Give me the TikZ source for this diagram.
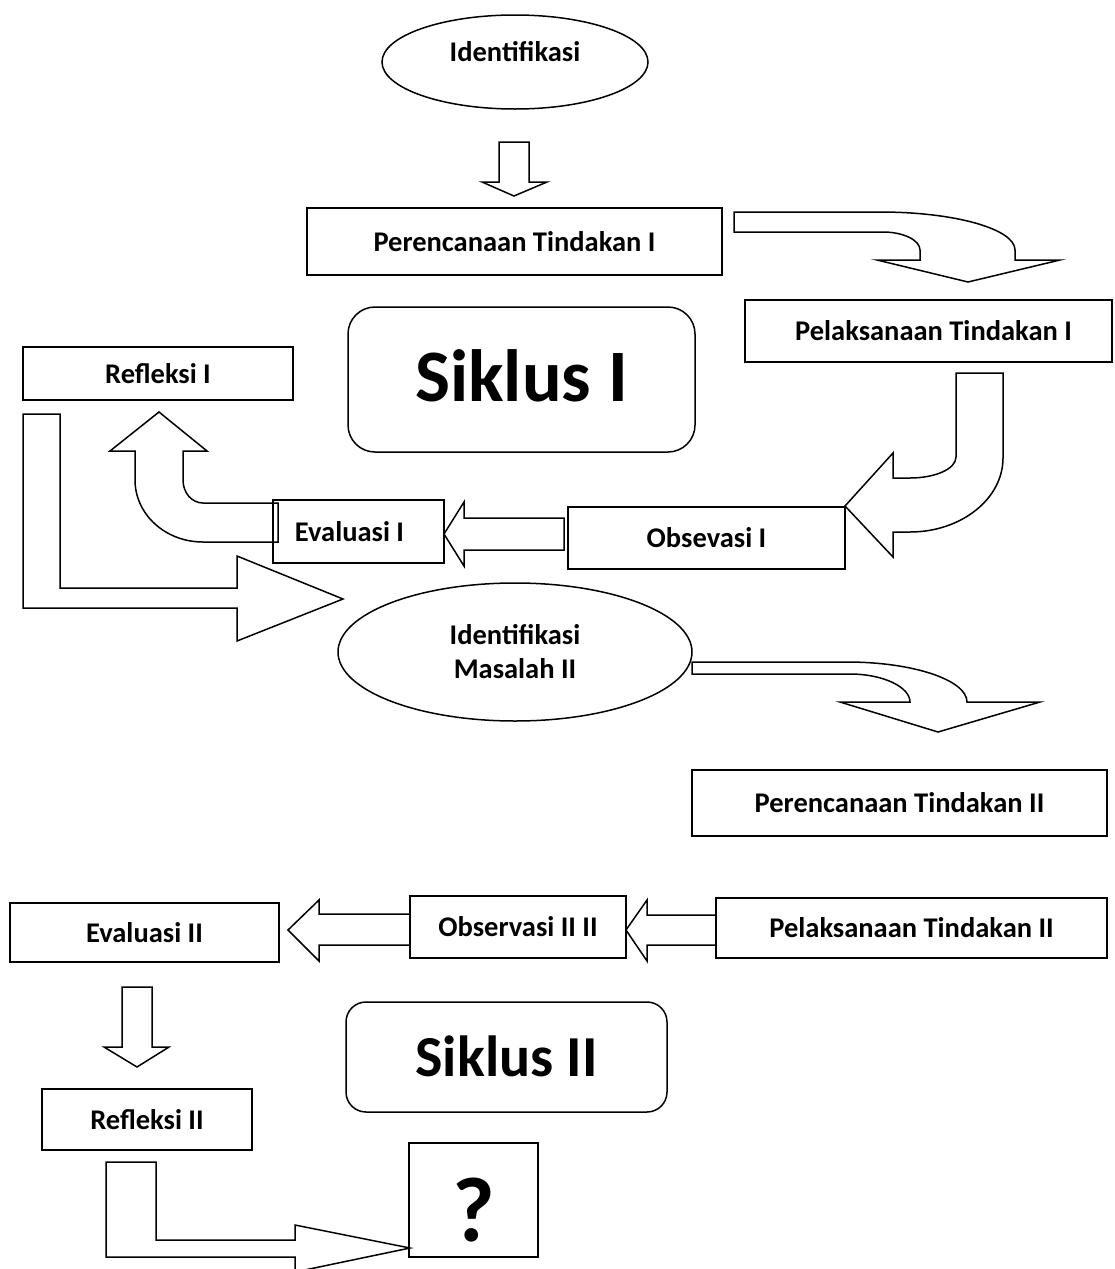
\documentclass[tikz,border=0pt]{standalone}
\usepackage{fontspec}
\setmainfont{Carlito}
\usetikzlibrary{shapes.geometric}
\begin{document}
\begin{tikzpicture}[x=1pt,y=-1pt,
  lbl/.style={font=\bfseries\fontsize{28.5}{34}\selectfont, align=center},
  box/.style={draw, line width=1.5pt, inner sep=0pt, lbl},
  oval/.style={draw, ellipse, line width=1.5pt, inner sep=0pt, lbl},
  rbox/.style={draw, line width=1.5pt, inner sep=0pt},
  barrow/.style={draw, fill=white, line width=1.5pt, line join=miter}]
\useasboundingbox (0,0) rectangle (1115,1269);
\clip (0,0) rectangle (1115,1269);

% ---------- block arrows (drawn first) ----------
% ellipse 1 -> Perencanaan I
\draw[barrow] (499,142) -- (529,142) -- (529,182) -- (547,182) -- (514,196) -- (482,182) -- (499,182) -- cycle;
% Perencanaan I -> Pelaksanaan I
\draw[barrow] (734,212) -- (880,212) .. controls (955,212) and (1015,229) .. (1015,250) -- (1015,260) -- (1060,260) -- (968,282) -- (877,260) -- (920,260) -- (920,250) .. controls (920,240) and (903,232) .. (883,232) -- (734,232) -- cycle;
% Pelaksanaan I -> Obsevasi I
\draw[barrow] (956,373) -- (1003,373) -- (1003,458) .. controls (1003,499) and (961,532) .. (910,532) -- (893,532) -- (893,557) -- (845,506) -- (893,453) -- (893,478) -- (910,478) .. controls (935,478) and (956,469) .. (956,457) -- cycle;
% Obsevasi I -> Evaluasi I
\draw[barrow] (564,518) -- (464,518) -- (464,502) -- (444,534) -- (464,566) -- (464,550) -- (564,550) -- cycle;
% Evaluasi I -> Refleksi I
\draw[barrow] (278,503) -- (203,503) .. controls (192,503) and (183,493) .. (183,480) -- (183,451) -- (207,451) -- (159,412) -- (110,451) -- (135,451) -- (135,480) .. controls (135,514) and (165,542) .. (203,542) -- (278,542) -- cycle;
% Refleksi I -> Identifikasi Masalah II
\draw[barrow] (23,414) -- (60,414) -- (60,588) -- (237,588) -- (237,556) -- (343,599) -- (237,641) -- (237,608) -- (23,608) -- cycle;
% Identifikasi Masalah II -> Perencanaan II
\draw[barrow] (692,662) -- (847,662) .. controls (913,662) and (967,680) .. (967,702) -- (1040,702) -- (938,732) -- (840,702) -- (910,702) .. controls (910,687) and (883,674) .. (850,674) -- (692,674) -- cycle;
% Pelaksanaan II -> Observasi II
\draw[barrow] (716,915) -- (647,915) -- (647,900) -- (626,930) -- (647,961) -- (647,945) -- (716,945) -- cycle;
% Observasi II -> Evaluasi II
\draw[barrow] (410,914) -- (319,914) -- (319,900) -- (288,930) -- (319,961) -- (319,945) -- (410,945) -- cycle;
% Evaluasi II -> Refleksi II
\draw[barrow] (122,987) -- (152,987) -- (152,1047) -- (169,1047) -- (137,1067) -- (104,1047) -- (122,1047) -- cycle;
% Refleksi II -> ?
\draw[barrow] (106,1162) -- (156,1162) -- (156,1240) -- (295,1240) -- (295,1225) -- (410,1248) -- (295,1272) -- (295,1257) -- (106,1257) -- cycle;

% ---------- nodes ----------
\node[oval, minimum width=266pt, minimum height=94pt] (id1) at (515,62) {};
\node[lbl] (id1t) at (515,52) {Identifikasi};
\node[box, minimum width=415pt, minimum height=67pt] (per1) at (514.5,241.5) {Perencanaan Tindakan I};
\node[box, minimum width=367pt, minimum height=62pt] (pel1) at (928.5,331) {\hspace*{10pt}Pelaksanaan Tindakan I};
\node[rbox, rounded corners=27pt, minimum width=347pt, minimum height=145pt] (sik1) at (521.5,379.5) {};
\node[font=\bfseries\fontsize{74}{80}\selectfont] (sik1t) at (521.5,376) {Siklus I};
\node[box, minimum width=270pt, minimum height=53pt] (ref1) at (158,373.5) {Refleksi I};
\node[box, minimum width=171pt, minimum height=63pt] (eval1) at (358.5,531.5) {\hspace*{-18pt}Evaluasi I};
\node[box, minimum width=277pt, minimum height=62pt] (obs1) at (706.5,538) {Obsevasi I};
\node[oval, minimum width=354pt, minimum height=138pt] (id2) at (515,652) {Identifikasi\\Masalah II};
\node[box, minimum width=415pt, minimum height=66pt] (per2) at (899.5,803) {Perencanaan Tindakan II};
\node[box, minimum width=391pt, minimum height=60pt] (pel2) at (911.5,928) {Pelaksanaan Tindakan II};
\node[box, minimum width=216pt, minimum height=62pt] (obs2) at (518,927) {Observasi II II};
\node[box, minimum width=269pt, minimum height=59pt] (eval2) at (144.5,932.5) {Evaluasi II};
\node[rbox, rounded corners=20pt, minimum width=321pt, minimum height=110pt] (sik2) at (506.5,1057) {};
\node[font=\bfseries\fontsize{58}{64}\selectfont] (sik2t) at (506.5,1056) {Siklus II};
\node[box, minimum width=210pt, minimum height=61pt] (ref2) at (147,1119.5) {Refleksi II};
\node[rbox, minimum width=129pt, minimum height=114pt] (q) at (473.5,1200) {};
\node[font=\bfseries\fontsize{92}{96}\selectfont] (qt) at (474,1210) {?};
\end{tikzpicture}
\end{document}
